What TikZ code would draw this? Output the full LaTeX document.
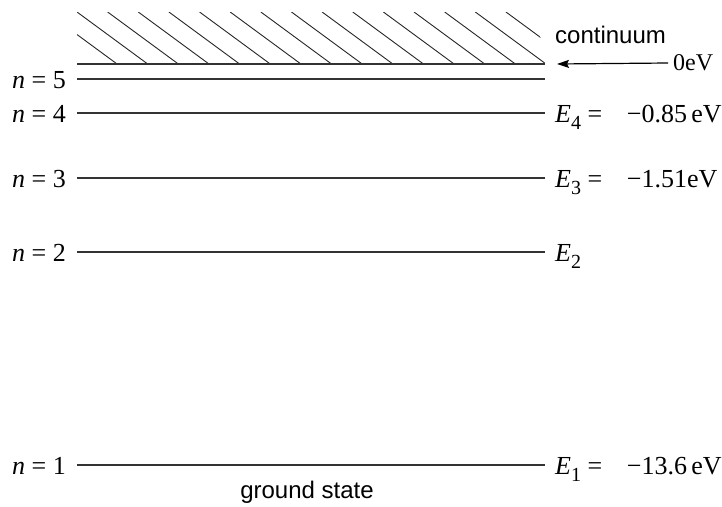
\documentclass[tikz,border=0pt]{standalone}
\usepackage{fontspec}
\setmainfont{Liberation Serif}
\newfontfamily\sansfont{Liberation Sans}
\usetikzlibrary{arrows.meta,positioning}

\newcommand{\lvsub}[1]{\raisebox{-7pt}{\fontsize{20}{22}\selectfont #1}}

\begin{document}
\begin{tikzpicture}[x=1pt, y=-1pt,
  level/.style={line width=1.3pt, black!80},
  hatch/.style={line width=0.9pt, black!85},
  nlbl/.style={anchor=base east, inner sep=0pt, font=\fontsize{26}{30}\selectfont},
  elbl/.style={anchor=base west, inner sep=0pt, font=\fontsize{26}{30}\selectfont},
  slbl/.style={inner sep=0pt, font=\sansfont\fontsize{24}{28}\selectfont},
  arr/.style={-{Stealth[length=12pt, width=8pt, inset=2pt]}, line width=1.2pt}]
\useasboundingbox (0,0) rectangle (722,506);
% continuum with hatching
\coordinate (c0) at (77,64);
\coordinate (c1) at (545,64);
\begin{scope}
  \clip (77,12) -- (536,12) -- (545,64) -- (77,64) -- cycle;
  \foreach \k in {-1,...,14}
    \draw[hatch] (77+30.64*\k,12) -- ++(70.7,52);
\end{scope}
\draw[level] (c0) -- (c1);
\node[slbl, anchor=base west] (cont) at (555,43) {continuum};
\node[elbl, anchor=west, font=\fontsize{24}{28}\selectfont] (zero) at (673,63) {0eV};
\coordinate (tip) at (557,64);
\draw[arr] ([xshift=-5pt]zero.west) -- (tip);

% bound levels
\foreach \k/\y in {5/79, 4/113, 3/178, 2/252, 1/465} {
  \coordinate (a\k) at (77,\y);
  \coordinate (b\k) at (545,\y);
  \draw[level] (a\k) -- (b\k);
  \node[nlbl] (n\k) at ([xshift=-11pt, yshift=-9pt]a\k) {\textit{n} = \k};
}
\node[elbl] (E4) at ([xshift=10pt, yshift=-9pt]b4)
  {\textit{E}\lvsub{4} =\hspace{0.95em}−0.85\,eV};
\node[elbl] (E3) at ([xshift=10pt, yshift=-9pt]b3)
  {\textit{E}\lvsub{3} =\hspace{0.95em}−1.51eV};
\node[elbl] (E2) at ([xshift=10pt, yshift=-9pt]b2) {\textit{E}\lvsub{2}};
\node[elbl] (E1) at ([xshift=10pt, yshift=-9pt]b1)
  {\textit{E}\lvsub{1} =\hspace{0.95em}−13.6\,eV};
\node[slbl, anchor=base] (gs) at (307,498) {ground state};
\end{tikzpicture}
\end{document}
